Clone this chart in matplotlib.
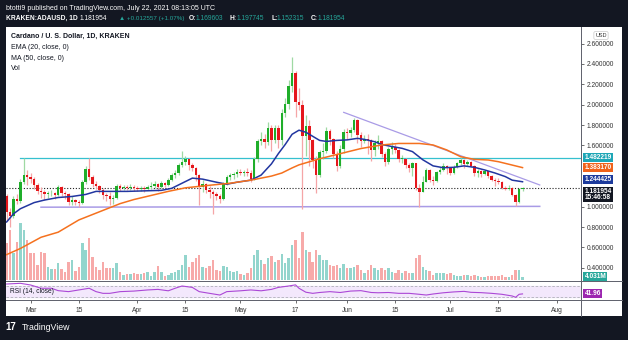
import numpy as np
import pandas as pd
import matplotlib
matplotlib.use("Agg")
import matplotlib.pyplot as plt
import matplotlib.dates as mdates
import matplotlib.transforms as mtransforms
from matplotlib.patches import Rectangle
from matplotlib.lines import Line2D

plt.rcParams['font.family'] = ['Liberation Sans', 'DejaVu Sans']

# ---- data (KRAKEN:ADAUSD, daily) ----
start_date = "2021-02-22"
first_open = 1.10

closes = [
    0.95, 0.91, 1.08, 1.06, 1.24, 1.31, 1.29,
    1.27, 1.21, 1.15, 1.14, 1.12, 1.13, 1.13, 1.11, 1.19, 1.13, 1.12, 1.05, 1.07, 1.05, 1.04, 1.24,
    1.37, 1.29, 1.22, 1.20, 1.16, 1.11, 1.10, 1.08, 1.09, 1.20, 1.18, 1.19, 1.18, 1.19, 1.18,
    1.17, 1.18, 1.17, 1.19, 1.20, 1.22, 1.19, 1.23, 1.21, 1.26, 1.31, 1.33, 1.41, 1.44, 1.47,
    1.41, 1.38, 1.31, 1.19, 1.22, 1.16, 1.14, 1.12, 1.10, 1.08, 1.23, 1.29, 1.31, 1.32, 1.34,
    1.33, 1.34, 1.33, 1.27, 1.47, 1.64, 1.66, 1.63, 1.77, 1.65, 1.77, 1.65, 1.92, 2.01, 2.18,
    2.31, 2.03, 2.00, 1.69, 1.79, 1.65, 1.46, 1.31, 1.54, 1.55, 1.74, 1.66, 1.52, 1.40, 1.57, 1.735,
    1.72, 1.75, 1.85, 1.70, 1.64, 1.66, 1.65, 1.56, 1.62, 1.64, 1.52, 1.44, 1.57, 1.59, 1.555,
    1.47, 1.47, 1.41, 1.376, 1.425, 1.18, 1.147, 1.245, 1.36, 1.26, 1.25, 1.34, 1.36, 1.40, 1.38,
    1.33, 1.39, 1.425, 1.46, 1.42, 1.44, 1.40, 1.33, 1.35, 1.32, 1.35, 1.30, 1.26, 1.25, 1.245,
    1.18, 1.17, 1.18, 1.115, 1.05, 1.169603, 1.181954,
]
highs = [
    1.12, 0.99, 1.10, 1.12, 1.27, 1.48, 1.36,
    1.33, 1.29, 1.23, 1.19, 1.16, 1.15, 1.16, 1.14, 1.21, 1.20, 1.15, 1.13, 1.10, 1.08, 1.07, 1.26,
    1.40, 1.48, 1.31, 1.25, 1.21, 1.18, 1.13, 1.14, 1.11, 1.22, 1.22, 1.21, 1.21, 1.22, 1.21,
    1.20, 1.20, 1.20, 1.21, 1.24, 1.25, 1.23, 1.25, 1.24, 1.28, 1.33, 1.36, 1.43, 1.55, 1.50,
    1.48, 1.43, 1.39, 1.32, 1.26, 1.23, 1.20, 1.16, 1.14, 1.12, 1.24, 1.31, 1.33, 1.34, 1.37,
    1.37, 1.36, 1.38, 1.36, 1.49, 1.66, 1.73, 1.71, 1.83, 1.80, 1.80, 1.80, 1.96, 2.07, 2.24,
    2.47, 2.33, 2.16, 2.05, 1.90, 1.85, 1.66, 1.50, 1.56, 1.62, 1.78, 1.76, 1.67, 1.55, 1.60, 1.76,
    1.77, 1.78, 1.87, 1.86, 1.73, 1.70, 1.71, 1.66, 1.65, 1.70, 1.65, 1.54, 1.59, 1.63, 1.61,
    1.57, 1.51, 1.48, 1.43, 1.44, 1.43, 1.22, 1.30, 1.38, 1.37, 1.30, 1.35, 1.39, 1.43, 1.41,
    1.39, 1.41, 1.44, 1.48, 1.47, 1.46, 1.45, 1.41, 1.37, 1.36, 1.36, 1.35, 1.31, 1.28, 1.28,
    1.25, 1.20, 1.21, 1.19, 1.12, 1.18, 1.197745,
]
lows = [
    0.86, 0.80, 0.89, 1.03, 1.04, 1.22, 1.21,
    1.23, 1.17, 1.12, 1.09, 1.07, 1.09, 1.10, 1.08, 1.10, 1.10, 1.08, 1.02, 1.02, 1.02, 1.00, 1.03,
    1.22, 1.26, 1.19, 1.17, 1.13, 1.08, 1.06, 1.02, 1.03, 1.08, 1.15, 1.16, 1.16, 1.16, 1.15,
    1.15, 1.15, 1.14, 1.16, 1.17, 1.18, 1.15, 1.18, 1.19, 1.20, 1.25, 1.28, 1.31, 1.39, 1.41,
    1.36, 1.35, 1.25, 1.02, 1.14, 1.13, 1.09, 0.93, 1.07, 1.04, 1.07, 1.21, 1.26, 1.27, 1.29,
    1.31, 1.30, 1.30, 1.24, 1.26, 1.44, 1.60, 1.58, 1.60, 1.55, 1.62, 1.58, 1.60, 1.88, 1.96,
    2.12, 1.88, 1.95, 0.98, 1.50, 1.40, 1.38, 1.13, 1.29, 1.47, 1.53, 1.60, 1.48, 1.35, 1.38, 1.53,
    1.66, 1.68, 1.73, 1.62, 1.59, 1.62, 1.52, 1.45, 1.50, 1.57, 1.49, 1.40, 1.42, 1.52, 1.53,
    1.44, 1.43, 1.38, 1.34, 1.30, 1.16, 1.00, 1.14, 1.24, 1.24, 1.21, 1.24, 1.32, 1.35, 1.32,
    1.31, 1.32, 1.38, 1.41, 1.38, 1.40, 1.39, 1.30, 1.29, 1.29, 1.31, 1.28, 1.25, 1.20, 1.22,
    1.17, 1.16, 1.16, 1.10, 1.01, 1.04, 1.152315,
]
# volume in millions
volumes = [
    44, 60, 32, 46, 68, 60, 48,
    32, 32, 18, 34, 32, 16, 13, 13, 21, 13, 10, 22, 24, 11, 16, 44,
    36, 51, 28, 16, 12, 22, 14, 14, 14, 21, 10, 6, 7, 7, 8,
    7, 7, 9, 10, 5, 10, 17, 10, 5, 6, 8, 10, 12, 18, 30,
    16, 22, 26, 30, 16, 14, 17, 24, 12, 11, 17, 16, 11, 10, 11,
    7, 6, 8, 14, 30, 36, 24, 19, 26, 29, 22, 24, 31, 20, 26,
    42, 48, 26, 58, 36, 34, 22, 36, 30, 24, 24, 18, 17, 18, 14, 19,
    15, 14, 16, 18, 12, 9, 12, 18, 15, 12, 14, 12, 14, 10, 8,
    12, 8, 11, 9, 8, 26, 30, 16, 12, 11, 6, 9, 8, 9, 7,
    8, 6, 5, 5, 6, 6, 5, 6, 5, 4, 4, 5, 5, 5, 5,
    6, 4, 4, 6, 12, 12, 4.031,
]

ema_dates = ["2021-02-22", "2021-02-24", "2021-02-26", "2021-02-28", "2021-03-02", "2021-03-05",
             "2021-03-09", "2021-03-13", "2021-03-17", "2021-03-20", "2021-03-24", "2021-03-29",
             "2021-04-03", "2021-04-08", "2021-04-11", "2021-04-14", "2021-04-17", "2021-04-20",
             "2021-04-24", "2021-04-27", "2021-04-30", "2021-05-04", "2021-05-07", "2021-05-10",
             "2021-05-12", "2021-05-14", "2021-05-16", "2021-05-18", "2021-05-20", "2021-05-22",
             "2021-05-24", "2021-05-26", "2021-05-29", "2021-06-01", "2021-06-04", "2021-06-06",
             "2021-06-09", "2021-06-11", "2021-06-14", "2021-06-17", "2021-06-20", "2021-06-23",
             "2021-06-26", "2021-06-29", "2021-07-02", "2021-07-05", "2021-07-08", "2021-07-11",
             "2021-07-14", "2021-07-17", "2021-07-19", "2021-07-22"]
ema_vals = [0.85, 0.93, 0.98, 1.01, 1.04, 1.065, 1.09, 1.10, 1.12, 1.15, 1.15, 1.15,
            1.155, 1.16, 1.18, 1.23, 1.28, 1.27, 1.24, 1.22, 1.24, 1.26, 1.31, 1.42,
            1.52, 1.61, 1.71, 1.75, 1.73, 1.69, 1.65, 1.64, 1.65, 1.655, 1.67, 1.66,
            1.637, 1.61, 1.59, 1.572, 1.54, 1.46, 1.40, 1.382, 1.386, 1.40, 1.386, 1.36,
            1.33, 1.295, 1.26, 1.244425]

ma_dates = ["2021-02-22", "2021-02-26", "2021-03-04", "2021-03-09", "2021-03-15", "2021-03-21",
            "2021-03-27", "2021-03-31", "2021-04-05", "2021-04-10", "2021-04-15", "2021-04-22",
            "2021-04-28", "2021-05-04", "2021-05-10", "2021-05-13", "2021-05-16", "2021-05-18",
            "2021-05-24", "2021-05-30", "2021-06-05", "2021-06-11", "2021-06-16", "2021-06-22",
            "2021-06-26", "2021-06-30", "2021-07-04", "2021-07-08", "2021-07-12", "2021-07-15",
            "2021-07-19", "2021-07-22"]
ma_vals = [0.53, 0.59, 0.70, 0.75, 0.87, 0.95, 1.03, 1.07, 1.11, 1.15, 1.185, 1.21,
           1.23, 1.26, 1.30, 1.33, 1.38, 1.41, 1.47, 1.52, 1.57, 1.605, 1.62, 1.62,
           1.605, 1.556, 1.49, 1.464, 1.458, 1.441, 1.408, 1.38317]

rsi_dates = ["2021-02-22", "2021-02-26", "2021-03-01", "2021-03-04", "2021-03-07", "2021-03-09",
             "2021-03-12", "2021-03-15", "2021-03-18", "2021-03-20", "2021-03-22", "2021-03-24",
             "2021-03-27", "2021-03-31", "2021-04-04", "2021-04-07", "2021-04-10", "2021-04-12",
             "2021-04-14", "2021-04-17", "2021-04-19", "2021-04-22", "2021-04-25", "2021-04-27",
             "2021-05-01", "2021-05-04", "2021-05-07", "2021-05-10", "2021-05-12", "2021-05-15",
             "2021-05-17", "2021-05-18", "2021-05-20", "2021-05-22", "2021-05-24", "2021-05-27",
             "2021-05-30", "2021-06-02", "2021-06-05", "2021-06-08", "2021-06-10", "2021-06-13",
             "2021-06-16", "2021-06-19", "2021-06-22", "2021-06-24", "2021-06-26", "2021-06-29",
             "2021-07-02", "2021-07-05", "2021-07-07", "2021-07-10", "2021-07-13", "2021-07-16",
             "2021-07-19", "2021-07-20", "2021-07-21", "2021-07-22"]
rsi_vals = [77, 79.5, 73.5, 62, 62, 53.5, 50, 56, 62, 50, 44, 44,
            50, 52, 56, 58, 53, 62, 70, 65, 50, 44, 38, 50,
            53, 56, 53, 58, 65, 70, 74, 62, 48, 44, 47, 50,
            47, 52, 53.5, 47, 46, 47, 44, 44, 40.6, 38, 41.7, 46,
            49, 51, 47.6, 46.4, 44, 40.6, 34.6, 30, 40.6, 41.96]

resist_level = 1.482219
last_price = 1.181954
trend_dates = ["2021-05-31", "2021-07-27"]
trend_vals = [1.925, 1.213]
support_dates = ["2021-03-04", "2021-07-27"]
support_vals = [0.995, 1.003]

tick_dates = ["2021-03-01", "2021-03-15", "2021-04-01", "2021-04-15", "2021-05-01", "2021-05-17",
              "2021-06-01", "2021-06-15", "2021-07-01", "2021-07-15", "2021-08-01"]
tick_labels = ["Mar", "15", "Apr", "15", "May", "17", "Jun", "15", "Jul", "15", "Aug"]
price_ticks = [0.4, 0.6, 0.8, 1.0, 1.6, 1.8, 2.0, 2.2, 2.4, 2.6]

# ---- colours ----
BG = "#131722"
UP, DN = "#1fae2a", "#e5171c"
UP_WICK, DN_WICK = "#9fd9a3", "#f5a5a7"
VOL_UP, VOL_DN = "#93d5cd", "#f7aaa9"
EMA_C, MA_C = "#2236a0", "#f5711e"
TEAL = "#35c0cf"
PURP = "#a99be6"
RSI_C = "#ab47d6"

W, H = 628, 340
fig = plt.figure(figsize=(W / 100, H / 100), dpi=100)
fig.patch.set_facecolor(BG)


def fx(x):
    return x / W


def fy(y):
    return 1 - y / H


fig.add_artist(Rectangle((fx(6), fy(316)), 616 / W, 289 / H, transform=fig.transFigure,
                         facecolor="white", edgecolor="none", zorder=0))

dates = pd.date_range(start_date, periods=len(closes), freq="D")
x = mdates.date2num(dates)
o = np.array([first_open] + closes[:-1])
c = np.array(closes)
hi = np.array(highs)
lo = np.array(lows)
up = c >= o

main_rect = [fx(6), fy(280), 575 / W, 253 / H]
ax_vol = fig.add_axes(main_rect, zorder=1)
ax = fig.add_axes(main_rect, zorder=2)
ax_rsi = fig.add_axes([fx(6), fy(300), 575 / W, 19 / H], zorder=2)

x0 = mdates.date2num(pd.Timestamp("2021-03-01"))
xlim = (x0 - 7.18, x0 + 160)

# volume
ax_vol.bar(x, volumes, width=0.72, color=np.where(up, VOL_UP, VOL_DN))
ax_vol.set_xlim(xlim)
ax_vol.set_ylim(0, 303.6)
ax_vol.axis("off")

# candles
ax.vlines(x, lo, hi, colors=np.where(up, UP_WICK, DN_WICK), linewidth=0.9, zorder=2)
body = np.maximum(np.abs(c - o), 0.006)
ax.bar(x, body, bottom=np.minimum(o, c), width=0.72, color=np.where(up, UP, DN), zorder=3)

ax.plot(mdates.date2num(pd.to_datetime(ema_dates)), ema_vals, color=EMA_C, lw=1.1, zorder=4)
ax.plot(mdates.date2num(pd.to_datetime(ma_dates)), ma_vals, color=MA_C, lw=1.1, zorder=4)
ax.plot([mdates.date2num(pd.Timestamp("2021-02-26")), xlim[1]], [resist_level] * 2,
        color=TEAL, lw=0.9, zorder=1)
ax.plot(mdates.date2num(pd.to_datetime(trend_dates)), trend_vals, color=PURP, lw=0.9, zorder=1)
ax.plot(mdates.date2num(pd.to_datetime(support_dates)), support_vals, color=PURP, lw=1.1, zorder=1)
ax.axhline(last_price, color="#222", lw=0.8, ls=(0, (1, 1.6)), zorder=1)

ax.set_xlim(xlim)
ax.set_ylim(0.281, 2.762)
ax.patch.set_alpha(0)
for s in ax.spines.values():
    s.set_visible(False)
ax.set_xticks([])
ax.yaxis.tick_right()
ax.set_yticks(price_ticks)
ax.set_yticklabels([f"{v:.6f}" for v in price_ticks])
ax.tick_params(axis="y", labelsize=4.8, colors="#333333", length=2, width=0.5, pad=2)

# price-scale labels (stacked like TradingView so they do not collide)
lab_tr = mtransforms.blended_transform_factory(ax.transAxes, ax.transData)


def shifted(px):
    return lab_tr + mtransforms.ScaledTranslation(0, px / 100, fig.dpi_scale_trans)


box_kw = dict(fontsize=4.7, color="white", fontweight="bold", ha="left", clip_on=False, zorder=6)
ax.text(1.006, resist_level, "1.482219", va="center", transform=shifted(0),
        bbox=dict(boxstyle="square,pad=0.15", fc="#1ea6b6", ec="none"), **box_kw)
ax.text(1.006, ma_vals[-1], "1.383170", va="center", transform=shifted(0.5),
        bbox=dict(boxstyle="square,pad=0.15", fc="#f0621a", ec="none"), **box_kw)
ax.text(1.006, ema_vals[-1], "1.244425", va="center", transform=shifted(2.6),
        bbox=dict(boxstyle="square,pad=0.15", fc="#1c3a9c", ec="none"), **box_kw)
ax.text(1.006, last_price, "1.181954\n15:46:58", va="top", transform=shifted(0.6),
        linespacing=0.98, bbox=dict(boxstyle="square,pad=0.15", fc="#131722", ec="none"), **box_kw)
vol_tr = mtransforms.blended_transform_factory(ax_vol.transAxes, ax_vol.transData)
ax_vol.text(1.006, volumes[-1], "4.031M", fontsize=4.7, color="white", fontweight="bold",
            va="center", ha="left", transform=vol_tr, clip_on=False,
            bbox=dict(boxstyle="square,pad=0.15", fc="#26a69a", ec="none"))

# legend text
ax.text(0.009, 0.962, "Cardano / U. S. Dollar, 1D, KRAKEN", transform=ax.transAxes,
        fontsize=5, fontweight="bold", color="#131722", va="center")
for i, t in enumerate(["EMA (20, close, 0)", "MA (50, close, 0)", "Vol"]):
    ax.text(0.009, 0.918 - i * 0.041, t, transform=ax.transAxes, fontsize=5,
            color="#131722", va="center")

# RSI pane
ax_rsi.set_xlim(xlim)
ax_rsi.set_ylim(20.4, 87.7)
ax_rsi.axhspan(30, 70, color="#f3e8fc", zorder=0)
ax_rsi.axhline(70, color="#b0b0b8", lw=0.6, ls=(0, (3, 2)))
ax_rsi.axhline(30, color="#b0b0b8", lw=0.6, ls=(0, (3, 2)))
ax_rsi.plot(mdates.date2num(pd.to_datetime(rsi_dates)), rsi_vals, color=RSI_C, lw=0.8)
rsi_tr = mtransforms.blended_transform_factory(ax_rsi.transAxes, ax_rsi.transData)
ax_rsi.text(0.007, 50, "RSI (14, close)", transform=rsi_tr, fontsize=4.8, color="#131722", va="center")
ax_rsi.text(1.006, rsi_vals[-1], "41.96", fontsize=4.7, color="white", fontweight="bold",
            va="center", ha="left", transform=rsi_tr, clip_on=False,
            bbox=dict(boxstyle="square,pad=0.15", fc="#9c27b0", ec="none"))
for s in ax_rsi.spines.values():
    s.set_visible(False)
ax_rsi.set_yticks([])
ax_rsi.set_xticks(mdates.date2num(pd.to_datetime(tick_dates)))
ax_rsi.set_xticklabels(tick_labels)
ax_rsi.tick_params(axis="x", labelsize=4.8, colors="#333333", length=2, width=0.5, pad=3)

# separators
for (xa, ya, xb, yb) in [(6, 280.7, 622, 280.7), (6, 300.3, 622, 300.3), (581.3, 27, 581.3, 316)]:
    fig.add_artist(Line2D([fx(xa), fx(xb)], [fy(ya), fy(yb)], transform=fig.transFigure,
                          color="#5d606b", lw=0.7, zorder=5))

# USD badge
fig.text(fx(601), fy(35.5), "USD", fontsize=4, color="#333333", ha="center", va="center",
         bbox=dict(boxstyle="round,pad=0.25", fc="white", ec="#c8c8c8", lw=0.5))

# header
fig.text(fx(6), fy(8.5), "btotti9 published on TradingView.com, July 22, 2021 08:13:05 UTC",
         fontsize=5, color="white", va="center")
hdr = [(6, "KRAKEN:ADAUSD, 1D", "white", "bold", 4.8), (80, "1.181954", "white", "normal", 4.8),
       (119, "\u25b2 +0.012557 (+1.07%)", "#26a69a", "normal", 4.5),
       (189, "O:", "white", "bold", 4.8), (196, "1.169603", "#26a69a", "normal", 4.8),
       (230, "H:", "white", "bold", 4.8), (237, "1.197745", "#26a69a", "normal", 4.8),
       (271, "L:", "white", "bold", 4.8), (277, "1.152315", "#26a69a", "normal", 4.8),
       (311, "C:", "white", "bold", 4.8), (318, "1.181954", "#26a69a", "normal", 4.8)]
for xp, t, col, wt, fs in hdr:
    fig.text(fx(xp), fy(18.5), t, fontsize=fs, color=col, fontweight=wt, va="center",
             family=["Liberation Sans", "DejaVu Sans"])

# footer
fig.text(fx(5), fy(327), "17", fontsize=7, color="white", fontweight="bold", va="center")
fig.text(fx(22), fy(327), "TradingView", fontsize=6.3, color="white", va="center")

fig.savefig("out.png", dpi=100, facecolor=BG)
